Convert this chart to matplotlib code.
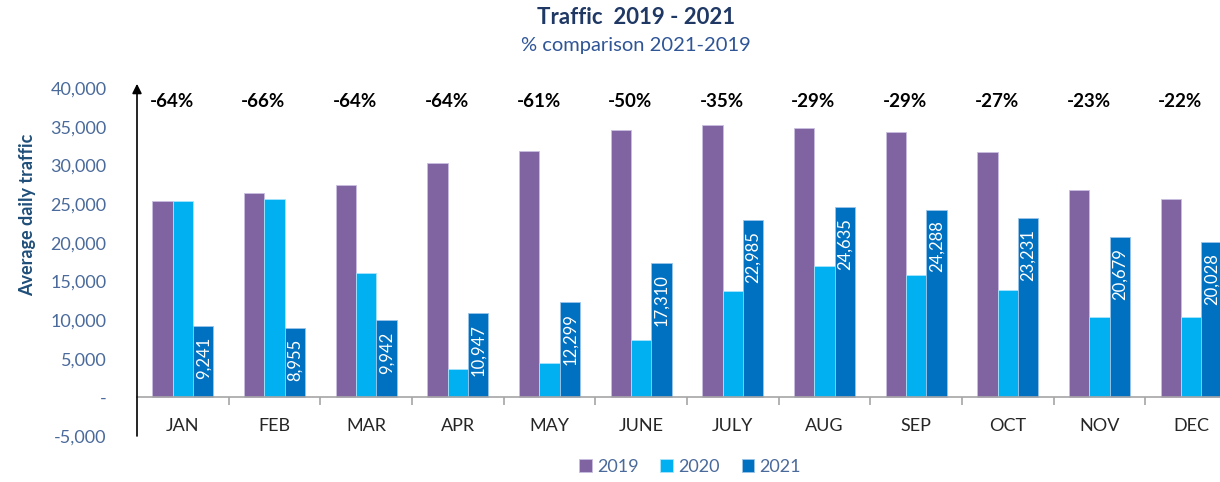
import matplotlib
matplotlib.use("Agg")
import matplotlib.pyplot as plt
import numpy as np

plt.rcParams['font.family'] = ['Lato', 'DejaVu Sans']

months = ['JAN', 'FEB', 'MAR', 'APR', 'MAY', 'JUNE', 'JULY', 'AUG', 'SEP', 'OCT', 'NOV', 'DEC']
traffic_2019 = [25400, 26400, 27400, 30300, 31800, 34600, 35200, 34800, 34300, 31700, 26800, 25600]
traffic_2020 = [25400, 25700, 16100, 3600, 4500, 7400, 13800, 17000, 15800, 13850, 10400, 10400]
traffic_2021 = [9241, 8955, 9942, 10947, 12299, 17310, 22985, 24635, 24288, 23231, 20679, 20028]
pct_labels = ['-64%', '-66%', '-64%', '-64%', '-61%', '-50%', '-35%', '-29%', '-29%', '-27%', '-23%', '-22%']

c2019 = '#8064A2'
c2020 = '#00B0F0'
c2021 = '#0070C0'
tick_col = '#4A6A9B'

fig = plt.figure(figsize=(12.2, 4.82), dpi=100)
# axes run a little past the right edge, as in the reference (DEC is cut)
ax = fig.add_axes([137 / 1220, 46 / 482, 1100 / 1220, 348 / 482])

x = np.arange(len(months))
w = 0.223
ax.bar(x - w, traffic_2019, w, color=c2019, edgecolor='#c9bfe0', linewidth=0.6, label='2019')
ax.bar(x, traffic_2020, w, color=c2020, edgecolor='#a8e4fa', linewidth=0.6, label='2020')
ax.bar(x + w, traffic_2021, w, color=c2021, edgecolor='#9cc5ea', linewidth=0.6, label='2021')

# value labels inside the 2021 bars
for xi, v in zip(x, traffic_2021):
    ax.annotate(f'{v:,}', (xi + w, v), xytext=(0, -8), textcoords='offset points',
                rotation=90, ha='center', va='top', color='white', fontsize=12)

# % change labels along the top
for xi, t in zip(x, pct_labels):
    ax.text(xi - 0.12, 38200, t, ha='center', va='center', fontsize=13.5,
            fontweight='bold', color='black')

ax.set_xlim(-0.5, 11.5)
ax.set_ylim(-5000, 40000)

ax.set_yticks(np.arange(-5000, 40001, 5000))
ax.set_yticklabels(['-5,000', '-'] + [f'{v:,}' for v in range(5000, 40001, 5000)])
ax.tick_params(axis='y', length=0, pad=22, labelsize=13, labelcolor=tick_col)

for s in ['top', 'right', 'left']:
    ax.spines[s].set_visible(False)
ax.spines['bottom'].set_position(('data', 0))
ax.spines['bottom'].set_color('#a6a6a6')
ax.spines['bottom'].set_linewidth(1.2)

ax.set_xticks(np.arange(0.5, 11.5, 1.0))
ax.set_xticklabels([])
ax.tick_params(axis='x', which='major', length=6, color='#a6a6a6', width=1.2)
ax.set_xticks(x, minor=True)
ax.set_xticklabels(months, minor=True)
ax.tick_params(axis='x', which='minor', length=0, pad=15, labelsize=13, labelcolor='#262626')

# vertical axis drawn as an arrow
ax.annotate('', xy=(0, 1.012), xycoords='axes fraction', xytext=(0, 0),
            arrowprops=dict(arrowstyle='-|>', color='black', lw=1.2,
                            mutation_scale=14, shrinkA=0, shrinkB=0))

fig.text(28 / 1220, 1 - 215 / 482, 'Average daily traffic', rotation=90, ha='center',
         va='center', fontsize=13, fontweight='bold', color='#1F4E79')

fig.text(636 / 1220, 1 - 18 / 482, 'Traffic  2019 - 2021', ha='center', va='center',
         fontsize=16, fontweight='bold', color='#1F3864')
fig.text(636 / 1220, 1 - 46 / 482, '% comparison 2021-2019', ha='center', va='center',
         fontsize=14.5, color='#2F5597')

leg = fig.legend(loc='center', bbox_to_anchor=(690 / 1220, 1 - 467 / 482), ncol=3,
                 frameon=False, fontsize=13, handlelength=0.7, handleheight=0.7,
                 handletextpad=0.3, columnspacing=1.2)
for t in leg.get_texts():
    t.set_color(tick_col)

fig.savefig('out.png', dpi=100)
